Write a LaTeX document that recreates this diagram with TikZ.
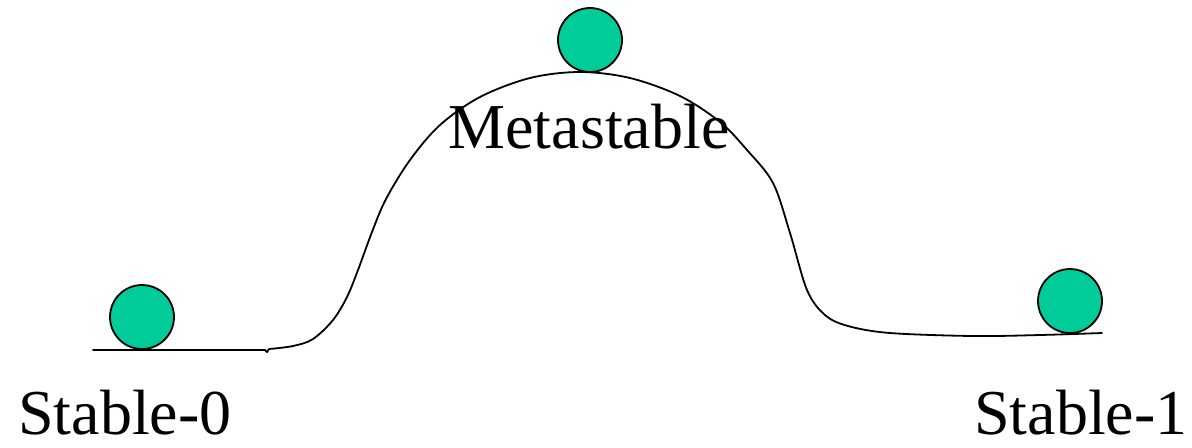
\documentclass[tikz,border=0pt]{standalone}
\usepackage{fontspec}
\setmainfont{Liberation Serif}
\definecolor{ballgreen}{HTML}{00CC99}
\begin{document}
\begin{tikzpicture}[x=0.5pt,y=-0.5pt,
  ball/.style={circle,draw=black,line width=0.9pt,fill=ballgreen,minimum size=32pt,inner sep=0pt},
  lbl/.style={font=\fontsize{32}{36}\selectfont,anchor=base,inner sep=0pt},
  track/.style={line width=0.9pt,line cap=round,line join=round}]
\useasboundingbox (0,0) rectangle (1192,447);
\coordinate (l0) at (93,350);
\coordinate (l1) at (265,350);
\coordinate (r1) at (1102,333);
\draw[track] (l0) -- (l1) -- (267,352) -- (269,349)
  plot[smooth,tension=0.55] coordinates {(269,349) (293,346) (313,339) (333,320) (347,297) (358,270) (372,232) (386,199) (410,160) (440,125) (480,97) (530,78) (580,72) (630,78) (680,96) (720,122) (747,150) (773,183) (790,233) (807,290) (825,315) (848,326) (890,333) (973,336) (1040,335) (1102,333)};
\node[ball] (b0) at (142,317) {};
\node[ball] (bm) at (590,40) {};
\node[ball] (b1) at (1070,301) {};
\node[lbl] (tm) at (589,148) {Metastable};
\node[lbl] (t0) at (125,434) {Stable-0};
\node[lbl] (t1) at (1081,434) {Stable-1};
\end{tikzpicture}
\end{document}
